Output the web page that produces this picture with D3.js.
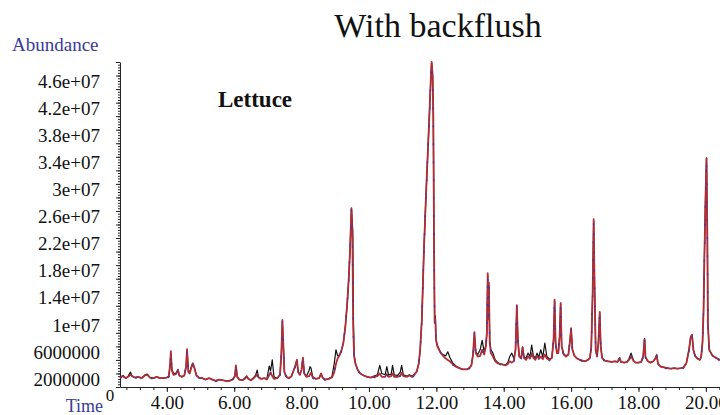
<!DOCTYPE html>
<html><head><meta charset="utf-8">
<script src="https://cdn.jsdelivr.net/npm/d3@7"></script>
<style>
body{margin:0;background:#fff}
svg{display:block}
text{font-family:"Liberation Serif","Times New Roman",serif}
</style>
</head><body>
<svg id="c" width="720" height="415"></svg>
<script>
// ---- data (abundance in units of 1e6, time in minutes) ----
const xTickValues = [4,6,8,10,12,14,16,18,20];
const xTickLabels = ["4.00","6.00","8.00","10.00","12.00","14.00","16.00","18.00","20.00"];
const yTickValues = [2,6,10,14,18,22,26,30,34,38,42,46];
const yTickLabels = ["2000000","6000000","1e+07","1.4e+07","1.8e+07","2.2e+07","2.6e+07","3e+07","3.4e+07","3.8e+07","4.2e+07","4.6e+07"];

const redTrace = [
[2.61,1.4],[2.70,1.6],[2.78,1.3],[2.85,1.5],[2.92,1.8],[2.97,1.6],[3.05,1.4],[3.15,1.5],[3.25,1.3],[3.35,1.7],[3.42,1.8],[3.50,1.4],[3.60,1.3],[3.70,1.5],[3.80,1.3],[3.90,1.3],[4.00,1.4],[4.06,1.6],[4.10,3.5],[4.12,5.3],[4.15,2.4],[4.20,1.8],[4.27,1.9],[4.33,2.5],[4.37,1.7],[4.45,1.5],[4.52,1.7],[4.57,3.0],[4.60,5.6],[4.64,2.2],[4.68,2.0],[4.73,2.9],[4.77,3.5],[4.82,2.8],[4.88,1.7],[4.95,1.4],[5.05,1.3],[5.15,1.1],[5.25,1.3],[5.35,1.1],[5.45,0.9],[5.55,1.1],[5.65,1.0],[5.75,0.9],[5.85,0.9],[5.95,1.1],[6.02,1.6],[6.05,3.2],[6.09,1.5],[6.15,1.1],[6.25,1.0],[6.32,1.3],[6.37,1.6],[6.42,1.2],[6.50,1.0],[6.58,1.3],[6.64,1.6],[6.68,1.9],[6.72,1.4],[6.80,1.2],[6.90,1.3],[6.97,1.1],[7.04,1.8],[7.08,2.2],[7.13,1.6],[7.18,1.2],[7.28,1.3],[7.36,1.8],[7.40,5.0],[7.43,9.9],[7.46,6.0],[7.49,2.2],[7.55,1.5],[7.62,1.3],[7.70,1.6],[7.76,2.4],[7.82,3.2],[7.86,4.0],[7.90,2.2],[7.95,1.8],[8.00,2.6],[8.04,4.3],[8.08,2.0],[8.14,1.5],[8.22,1.6],[8.28,2.1],[8.33,1.4],[8.42,1.2],[8.52,1.3],[8.58,2.0],[8.62,1.4],[8.70,1.1],[8.80,1.2],[8.90,1.4],[8.97,2.2],[9.02,3.4],[9.07,4.2],[9.12,4.6],[9.18,5.3],[9.24,6.5],[9.30,9.0],[9.35,12.0],[9.40,16.0],[9.44,20.5],[9.48,26.4],[9.51,22.0],[9.53,9.0],[9.56,4.5],[9.60,3.4],[9.66,2.6],[9.74,2.0],[9.84,1.7],[9.95,1.5],[10.05,1.4],[10.15,1.5],[10.25,1.6],[10.32,2.0],[10.38,1.5],[10.48,1.5],[10.53,1.9],[10.58,1.5],[10.66,1.6],[10.70,2.0],[10.75,1.5],[10.85,1.5],[10.93,1.7],[10.97,2.1],[11.02,1.6],[11.12,1.5],[11.20,1.7],[11.28,1.5],[11.35,1.8],[11.42,2.3],[11.48,3.5],[11.52,5.5],[11.57,10.0],[11.63,20.0],[11.69,28.0],[11.75,35.0],[11.80,41.0],[11.84,46.0],[11.86,48.0],[11.89,46.0],[11.91,40.0],[11.93,22.0],[11.95,9.5],[11.97,10.0],[11.99,7.0],[12.03,6.0],[12.08,5.5],[12.14,5.0],[12.20,4.6],[12.28,4.2],[12.34,4.0],[12.40,3.8],[12.48,3.4],[12.58,3.0],[12.68,2.8],[12.78,2.6],[12.90,2.6],[12.98,2.8],[13.04,3.2],[13.09,4.8],[13.13,8.1],[13.17,5.0],[13.23,4.5],[13.30,4.6],[13.36,5.5],[13.42,4.8],[13.47,6.0],[13.50,8.0],[13.525,16.8],[13.54,10.0],[13.56,15.4],[13.585,6.5],[13.62,5.0],[13.68,4.5],[13.75,3.8],[13.82,3.5],[13.90,3.4],[13.98,3.3],[14.06,3.2],[14.12,3.4],[14.18,3.8],[14.24,3.6],[14.30,3.8],[14.35,5.5],[14.39,12.1],[14.42,7.0],[14.46,4.5],[14.52,4.3],[14.56,5.9],[14.60,4.3],[14.66,4.0],[14.72,4.5],[14.78,4.2],[14.83,5.0],[14.88,4.3],[14.94,4.0],[14.99,4.6],[15.04,4.2],[15.10,4.5],[15.16,4.1],[15.22,4.8],[15.28,4.2],[15.36,4.0],[15.43,4.3],[15.48,7.0],[15.51,12.9],[15.54,6.5],[15.58,5.0],[15.62,5.0],[15.66,7.5],[15.69,12.4],[15.72,6.0],[15.78,4.8],[15.85,4.5],[15.92,4.8],[15.97,7.0],[16.00,8.7],[16.04,5.5],[16.10,4.6],[16.18,4.2],[16.26,4.0],[16.34,3.9],[16.42,3.8],[16.50,4.0],[16.56,4.3],[16.60,6.0],[16.64,14.0],[16.67,24.8],[16.70,14.0],[16.73,5.5],[16.77,4.5],[16.81,6.5],[16.85,11.1],[16.88,6.0],[16.92,4.3],[17.00,3.9],[17.10,3.8],[17.20,3.7],[17.30,3.8],[17.38,3.7],[17.44,4.3],[17.48,3.7],[17.58,3.6],[17.66,3.7],[17.72,4.0],[17.78,4.5],[17.82,4.2],[17.86,3.8],[17.92,3.6],[18.00,3.6],[18.08,3.7],[18.14,4.5],[18.18,7.0],[18.21,4.4],[18.28,3.8],[18.36,3.6],[18.44,3.8],[18.50,4.2],[18.54,4.7],[18.58,3.4],[18.66,3.0],[18.76,2.9],[18.86,2.8],[18.96,2.7],[19.06,2.8],[19.16,2.7],[19.26,2.8],[19.34,2.9],[19.42,3.5],[19.50,5.5],[19.55,7.4],[19.59,7.7],[19.63,5.5],[19.68,4.6],[19.75,4.2],[19.82,4.0],[19.86,4.4],[19.90,6.5],[19.93,11.0],[19.96,20.0],[19.99,28.0],[20.02,33.8],[20.045,21.7],[20.06,9.5],[20.10,5.5],[20.20,4.6],[20.30,4.3],[20.42,4.0]
];

const blackTrace = [
[2.61,1.4],[2.70,1.7],[2.78,1.3],[2.85,1.6],[2.92,2.2],[2.97,1.6],[3.05,1.4],[3.15,1.5],[3.25,1.3],[3.35,1.8],[3.42,1.9],[3.50,1.4],[3.60,1.3],[3.70,1.5],[3.80,1.3],[3.90,1.3],[4.00,1.4],[4.06,1.6],[4.10,3.3],[4.12,5.0],[4.15,2.6],[4.20,2.0],[4.27,2.0],[4.33,2.6],[4.37,1.7],[4.45,1.5],[4.52,1.7],[4.57,2.9],[4.60,5.2],[4.64,2.4],[4.68,2.1],[4.73,3.0],[4.77,3.5],[4.82,2.8],[4.88,1.7],[4.95,1.4],[5.05,1.3],[5.15,1.1],[5.25,1.3],[5.35,1.1],[5.45,0.9],[5.55,1.1],[5.65,1.0],[5.75,0.9],[5.85,0.9],[5.95,1.1],[6.02,1.6],[6.05,3.0],[6.09,1.5],[6.15,1.1],[6.25,1.0],[6.32,1.3],[6.37,1.6],[6.42,1.2],[6.50,1.0],[6.58,1.4],[6.64,1.8],[6.68,2.5],[6.72,1.5],[6.80,1.2],[6.90,1.3],[6.97,1.2],[7.04,3.1],[7.08,2.4],[7.13,4.0],[7.18,1.5],[7.28,1.3],[7.36,1.8],[7.40,4.8],[7.43,9.6],[7.46,6.0],[7.49,2.2],[7.55,1.5],[7.62,1.3],[7.70,1.6],[7.76,2.4],[7.82,3.2],[7.86,4.0],[7.90,2.2],[7.95,1.8],[8.00,2.6],[8.04,4.3],[8.08,2.0],[8.14,1.6],[8.22,2.4],[8.25,3.0],[8.28,2.8],[8.33,1.5],[8.42,1.2],[8.52,1.3],[8.58,2.0],[8.62,1.4],[8.70,1.1],[8.80,1.2],[8.90,1.5],[8.97,3.5],[9.02,5.5],[9.07,4.6],[9.12,4.7],[9.18,5.4],[9.24,6.5],[9.30,9.0],[9.35,12.0],[9.40,16.0],[9.44,20.5],[9.48,26.4],[9.52,23.0],[9.54,10.0],[9.56,4.8],[9.60,3.5],[9.66,2.6],[9.74,2.0],[9.84,1.7],[9.95,1.5],[10.05,1.4],[10.15,1.6],[10.25,1.8],[10.32,3.2],[10.38,2.0],[10.48,1.8],[10.53,3.0],[10.58,1.8],[10.66,1.9],[10.70,3.2],[10.75,1.8],[10.85,1.7],[10.93,2.2],[10.97,3.2],[11.02,1.8],[11.12,1.6],[11.20,1.8],[11.28,1.6],[11.35,1.9],[11.42,2.3],[11.48,3.5],[11.52,5.5],[11.57,10.0],[11.63,20.0],[11.69,28.0],[11.75,35.0],[11.80,41.0],[11.84,46.0],[11.86,48.0],[11.89,46.0],[11.91,40.0],[11.93,22.0],[11.95,9.5],[11.97,10.5],[11.99,7.0],[12.03,6.2],[12.08,5.6],[12.14,5.0],[12.20,4.8],[12.28,4.6],[12.34,5.2],[12.40,4.4],[12.48,3.6],[12.58,3.1],[12.68,2.8],[12.78,2.6],[12.90,2.6],[12.98,2.8],[13.04,3.2],[13.09,4.8],[13.13,7.8],[13.17,5.2],[13.23,4.8],[13.30,5.5],[13.36,6.9],[13.42,5.2],[13.47,6.2],[13.50,8.0],[13.525,16.5],[13.54,10.0],[13.56,15.0],[13.585,6.8],[13.62,5.5],[13.68,5.0],[13.75,4.0],[13.82,3.6],[13.90,3.4],[13.98,3.3],[14.06,3.3],[14.12,3.6],[14.18,4.5],[14.24,5.0],[14.30,4.2],[14.35,5.5],[14.39,11.8],[14.42,7.0],[14.46,4.6],[14.52,4.4],[14.56,5.9],[14.60,4.5],[14.66,4.2],[14.72,5.0],[14.78,4.5],[14.83,6.2],[14.88,4.6],[14.94,4.3],[14.99,5.0],[15.04,4.4],[15.10,5.5],[15.16,4.4],[15.22,6.5],[15.28,4.5],[15.36,4.1],[15.43,4.3],[15.48,7.0],[15.51,12.7],[15.54,6.5],[15.58,5.0],[15.62,5.0],[15.66,7.5],[15.69,12.4],[15.72,6.0],[15.78,4.9],[15.85,4.6],[15.92,4.8],[15.97,7.0],[16.00,8.5],[16.04,5.5],[16.10,4.6],[16.18,4.2],[16.26,4.0],[16.34,3.9],[16.42,3.8],[16.50,4.0],[16.56,4.3],[16.60,6.0],[16.64,14.0],[16.67,24.5],[16.70,14.0],[16.73,5.5],[16.77,4.5],[16.81,6.5],[16.85,11.0],[16.88,6.0],[16.92,4.3],[17.00,3.9],[17.10,3.8],[17.20,3.7],[17.30,3.8],[17.38,3.7],[17.44,4.3],[17.48,3.7],[17.58,3.6],[17.66,3.7],[17.72,4.2],[17.78,5.0],[17.82,4.4],[17.86,3.8],[17.92,3.6],[18.00,3.6],[18.08,3.7],[18.14,4.5],[18.18,7.2],[18.21,4.4],[18.28,3.8],[18.36,3.6],[18.44,3.8],[18.50,4.2],[18.54,4.7],[18.58,3.4],[18.66,3.0],[18.76,2.9],[18.86,2.8],[18.96,2.7],[19.06,2.8],[19.16,2.7],[19.26,2.8],[19.34,2.9],[19.42,3.5],[19.50,5.5],[19.55,7.4],[19.59,7.7],[19.63,5.5],[19.68,4.6],[19.75,4.2],[19.82,4.0],[19.86,4.4],[19.90,6.5],[19.93,11.0],[19.96,20.0],[19.99,28.0],[20.02,33.8],[20.045,21.7],[20.06,9.5],[20.10,5.5],[20.20,4.6],[20.30,4.3],[20.42,4.0]
];

const blueTrace = [
[2.61,1.3],[2.70,1.5],[2.78,1.2],[2.85,1.4],[2.92,1.7],[2.97,1.5],[3.05,1.3],[3.15,1.4],[3.25,1.2],[3.35,1.6],[3.42,1.7],[3.50,1.3],[3.60,1.2],[3.70,1.4],[3.80,1.2],[3.90,1.2],[4.00,1.3],[4.06,1.5],[4.10,3.4],[4.12,5.1],[4.15,2.3],[4.20,1.7],[4.27,1.8],[4.33,2.4],[4.37,1.6],[4.45,1.4],[4.52,1.6],[4.57,2.9],[4.60,5.4],[4.64,2.1],[4.68,1.9],[4.73,2.8],[4.77,3.4],[4.82,2.7],[4.88,1.6],[4.95,1.3],[5.05,1.2],[5.15,1.0],[5.25,1.2],[5.35,1.0],[5.45,0.8],[5.55,1.0],[5.65,0.9],[5.75,0.8],[5.85,0.8],[5.95,1.0],[6.02,1.5],[6.05,3.1],[6.09,1.4],[6.15,1.0],[6.25,0.9],[6.32,1.2],[6.37,1.5],[6.42,1.1],[6.50,0.9],[6.58,1.2],[6.64,1.5],[6.68,1.8],[6.72,1.3],[6.80,1.1],[6.90,1.2],[6.97,1.0],[7.04,1.7],[7.08,2.1],[7.13,1.5],[7.18,1.1],[7.28,1.2],[7.36,1.7],[7.40,4.9],[7.43,9.7],[7.46,5.9],[7.49,2.1],[7.55,1.4],[7.62,1.2],[7.70,1.5],[7.76,2.3],[7.82,3.1],[7.86,3.9],[7.90,2.1],[7.95,1.7],[8.00,2.5],[8.04,4.2],[8.08,1.9],[8.14,1.4],[8.22,1.5],[8.28,2.0],[8.33,1.3],[8.42,1.1],[8.52,1.2],[8.58,1.9],[8.62,1.3],[8.70,1.0],[8.80,1.1],[8.90,1.3],[8.97,2.1],[9.02,3.3],[9.07,4.1],[9.12,4.5],[9.18,5.2],[9.24,6.4],[9.30,8.9],[9.35,11.9],[9.40,15.9],[9.44,20.4],[9.48,26.2],[9.51,21.8],[9.53,8.9],[9.56,4.4],[9.60,3.3],[9.66,2.5],[9.74,1.9],[9.84,1.6],[9.95,1.4],[10.05,1.3],[10.15,1.4],[10.25,1.5],[10.32,1.9],[10.38,1.4],[10.48,1.4],[10.53,1.8],[10.58,1.4],[10.66,1.5],[10.70,1.9],[10.75,1.4],[10.85,1.4],[10.93,1.6],[10.97,2.0],[11.02,1.5],[11.12,1.4],[11.20,1.6],[11.28,1.4],[11.35,1.7],[11.42,2.2],[11.48,3.4],[11.52,5.4],[11.57,9.9],[11.63,19.9],[11.69,27.9],[11.75,34.9],[11.80,40.9],[11.84,45.8],[11.86,47.8],[11.89,45.8],[11.91,39.8],[11.93,21.8],[11.95,9.4],[11.97,9.9],[11.99,6.9],[12.03,5.9],[12.08,5.4],[12.14,4.9],[12.20,4.5],[12.28,4.1],[12.34,3.9],[12.40,3.7],[12.48,3.3],[12.58,2.9],[12.68,2.7],[12.78,2.5],[12.90,2.5],[12.98,2.7],[13.04,3.1],[13.09,4.7],[13.13,8.0],[13.17,4.9],[13.23,4.4],[13.30,4.5],[13.36,5.4],[13.42,4.7],[13.47,5.9],[13.50,7.9],[13.525,16.6],[13.54,9.9],[13.56,15.3],[13.585,6.4],[13.62,4.9],[13.68,4.4],[13.75,3.7],[13.82,3.4],[13.90,3.3],[13.98,3.2],[14.06,3.1],[14.12,3.3],[14.18,3.7],[14.24,3.5],[14.30,3.7],[14.35,5.4],[14.39,12.0],[14.42,6.9],[14.46,4.4],[14.52,4.2],[14.56,5.8],[14.60,4.2],[14.66,3.9],[14.72,4.4],[14.78,4.1],[14.83,4.9],[14.88,4.2],[14.94,3.9],[14.99,4.5],[15.04,4.1],[15.10,4.4],[15.16,4.0],[15.22,4.7],[15.28,4.1],[15.36,3.9],[15.43,4.2],[15.48,6.9],[15.51,12.8],[15.54,6.4],[15.58,4.9],[15.62,4.9],[15.66,7.4],[15.69,12.3],[15.72,5.9],[15.78,4.7],[15.85,4.4],[15.92,4.7],[15.97,6.9],[16.00,8.6],[16.04,5.4],[16.10,4.5],[16.18,4.1],[16.26,3.9],[16.34,3.8],[16.42,3.7],[16.50,3.9],[16.56,4.2],[16.60,5.9],[16.64,13.9],[16.67,24.6],[16.70,13.9],[16.73,5.4],[16.77,4.4],[16.81,6.4],[16.85,11.0],[16.88,5.9],[16.92,4.2],[17.00,3.8],[17.10,3.7],[17.20,3.6],[17.30,3.7],[17.38,3.6],[17.44,4.2],[17.48,3.6],[17.58,3.5],[17.66,3.6],[17.72,3.9],[17.78,4.4],[17.82,4.1],[17.86,3.7],[17.92,3.5],[18.00,3.5],[18.08,3.6],[18.14,4.4],[18.18,6.9],[18.21,4.3],[18.28,3.7],[18.36,3.5],[18.44,3.7],[18.50,4.1],[18.54,4.6],[18.58,3.3],[18.66,2.9],[18.76,2.8],[18.86,2.7],[18.96,2.6],[19.06,2.7],[19.16,2.6],[19.26,2.7],[19.34,2.8],[19.42,3.4],[19.50,5.4],[19.55,7.3],[19.59,7.6],[19.63,5.4],[19.68,4.5],[19.75,4.1],[19.82,3.9],[19.86,4.3],[19.90,6.4],[19.93,10.9],[19.96,19.9],[19.99,27.9],[20.02,33.6],[20.045,21.6],[20.06,9.4],[20.10,5.4],[20.20,4.5],[20.30,4.2],[20.42,3.9]
];

// ---- drawing ----
const svg = d3.select("#c");
const x = d3.scaleLinear().domain([2.61, 20.42]).range([120, 720]);
const y = d3.scaleLinear().domain([0, 48]).range([387, 62]);

// y axis: minor ticks
svg.append("g").attr("transform","translate(120,0)")
  .call(d3.axisLeft(y).tickValues(d3.range(0, 48.01, 0.4)).tickSize(2).tickSizeOuter(0).tickFormat(""))
  .call(g => g.selectAll("line").attr("stroke","#222"))
  .call(g => g.select(".domain").attr("stroke","#222"));
// y axis: major ticks
svg.append("g").attr("transform","translate(120,0)")
  .call(d3.axisLeft(y).tickValues(d3.range(0, 48.01, 2)).tickSize(4).tickSizeOuter(0).tickFormat(""))
  .call(g => g.select(".domain").remove())
  .call(g => g.selectAll("line").attr("stroke","#222"));
// y labels
svg.append("g").attr("transform","translate(120,0)")
  .call(d3.axisLeft(y).tickValues(yTickValues).tickSize(0).tickPadding(20).tickFormat((d,i)=>yTickLabels[i]))
  .call(g => g.select(".domain").remove())
  .call(g => g.selectAll("text").attr("font-family","Liberation Serif").attr("font-size",19).attr("fill","#111").attr("dy","0.62em"));

// x axis minor ticks
svg.append("g").attr("transform","translate(0,387)")
  .call(d3.axisBottom(x).tickValues(d3.range(2.8, 20.42, 0.4)).tickSize(3).tickSizeOuter(0).tickFormat(""))
  .call(g => g.selectAll("line").attr("stroke","#222"))
  .call(g => g.select(".domain").attr("stroke","#222"));
svg.append("g").attr("transform","translate(0,387)")
  .call(d3.axisBottom(x).tickValues(xTickValues).tickSize(5).tickPadding(4).tickFormat((d,i)=>xTickLabels[i]))
  .call(g => g.select(".domain").remove())
  .call(g => g.selectAll("line").attr("stroke","#222"))
  .call(g => g.selectAll("text").attr("font-family","Liberation Serif").attr("font-size",19).attr("fill","#111"));

// traces
const line = d3.line().x(d=>x(d[0])).y(d=>y(d[1]));
svg.append("path").datum(blackTrace).attr("d",line).attr("fill","none").attr("stroke","#111").attr("stroke-width",1.2).attr("stroke-linejoin","round");
svg.append("path").datum(redTrace).attr("d",line).attr("fill","none").attr("stroke","#b02e36").attr("stroke-width",1.8).attr("stroke-linejoin","round");
svg.append("path").datum(blueTrace).attr("d",line).attr("fill","none").attr("stroke","#3a3aa8").attr("stroke-width",1.4).attr("stroke-dasharray","2,16");

// texts
svg.append("text").attr("x",438).attr("y",37).attr("text-anchor","middle").attr("font-size",34).attr("fill","#111").text("With backflush");
svg.append("text").attr("x",12).attr("y",51).attr("font-size",19).attr("fill","#3a3a9a").text("Abundance");
svg.append("text").attr("x",218).attr("y",107).attr("font-size",23).attr("font-weight","bold").attr("fill","#111").text("Lettuce");
svg.append("text").attr("x",110).attr("y",401).attr("text-anchor","middle").attr("font-size",17).attr("fill","#111").text("0");
svg.append("text").attr("x",103).attr("y",412).attr("text-anchor","end").attr("font-size",18).attr("fill","#3a3a9a").text("Time");
</script>
</body></html>
